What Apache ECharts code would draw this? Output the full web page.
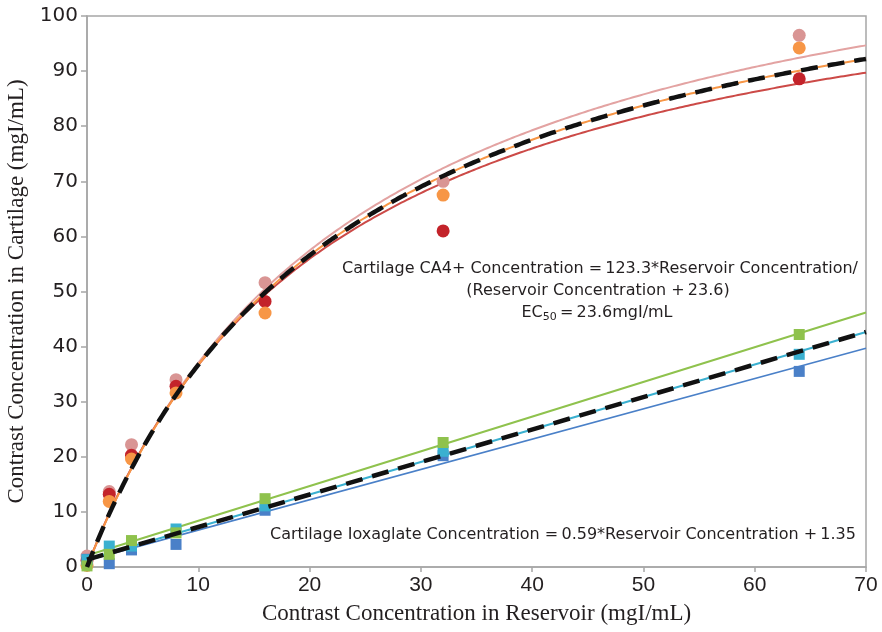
<!DOCTYPE html>
<html>
<head>
<meta charset="utf-8">
<script src="https://cdn.jsdelivr.net/npm/echarts@6/dist/echarts.min.js"></script>
<style>
  html, body { margin: 0; padding: 0; background: #ffffff; }
  #chart { width: 882px; height: 632px; }
</style>
</head>
<body>
<div id="chart"></div>
<script>
// Reservoir concentrations sampled (mgI/mL)
const reservoirConc = [0, 2, 4, 8, 16, 32, 64];

// CA4+ cartilage concentrations, three specimens
const ca4Pink   = [2.0, 13.7, 22.2, 34.0, 51.6, 70.0, 96.5];
const ca4Red    = [1.2, 13.2, 20.3, 32.8, 48.2, 61.0, 88.6];
const ca4Orange = [0.3, 11.9, 19.6, 31.6, 46.1, 67.5, 94.2];

// Ioxaglate cartilage concentrations, three specimens
const ioxGreen = [0.2, 2.3, 4.8, 6.2, 12.4, 22.6, 42.2];
const ioxCyan  = [1.3, 3.8, 3.8, 6.9, 11.1, 21.0, 38.6];
const ioxBlue  = [1.4, 0.6, 3.1, 4.1, 10.3, 20.2, 35.5];

// Saturation fits y = Vmax*x/(x+EC50): pink, orange, red, then the mean fit
const ca4FitVmax = [127.8, 123.3, 118.3];
const ca4FitEC50 = [24.5, 23.6, 22.3];
const ca4MeanFit = [123.3, 23.6];

// Linear fits y = slope*x + intercept: green, cyan, blue, then the mean fit
const ioxFitSlope = [0.63, 0.59, 0.55];
const ioxFitIntercept = [2.1, 1.35, 1.2];
const ioxMeanFit = [0.59, 1.35];

// Axis ticks
const xTicks = [0, 10, 20, 30, 40, 50, 60, 70];
const yTicks = [0, 10, 20, 30, 40, 50, 60, 70, 80, 90, 100];

const xMax = xTicks[xTicks.length - 1];

function hyperbola(vmax, k) {
  const pts = [];
  for (let x = 0; x <= xMax + 1e-9; x += 0.25) pts.push([x, vmax * x / (x + k)]);
  return pts;
}
function straight(m, b) {
  return [[0, b], [xMax, m * xMax + b]];
}
function pairs(ys) {
  return reservoirConc.map((x, i) => [x, ys[i]]);
}

const colors = {
  pink: '#d99594', orange: '#f79646', red: '#c3232a',
  pinkLine: '#e3a3a2', redLine: '#cc4a47',
  green: '#8fc24d', cyan: '#3ab0d0', blue: '#4a80c8'
};

function fitLine(data, color, width) {
  return { type: 'line', data: data, symbol: 'none', silent: true, z: 2,
    lineStyle: { color: color, width: width }, animation: false };
}
function points(ys, color, shape, size) {
  return { type: 'scatter', data: pairs(ys), symbol: shape, symbolSize: size, z: 3,
    itemStyle: { color: color, opacity: 1 }, animation: false };
}

const series = [
  fitLine(hyperbola(ca4FitVmax[0], ca4FitEC50[0]), colors.pinkLine, 2),
  fitLine(hyperbola(ca4FitVmax[2], ca4FitEC50[2]), colors.redLine, 2),
  fitLine(hyperbola(ca4FitVmax[1], ca4FitEC50[1]), colors.orange, 2),
  fitLine(straight(ioxFitSlope[0], ioxFitIntercept[0]), colors.green, 2),
  fitLine(straight(ioxFitSlope[2], ioxFitIntercept[2]), colors.blue, 1.6),
  fitLine(straight(ioxFitSlope[1], ioxFitIntercept[1]), colors.cyan, 2),
  points(ca4Pink, colors.pink, 'circle', 13),
  points(ca4Red, colors.red, 'circle', 13),
  points(ca4Orange, colors.orange, 'circle', 13),
  points(ioxBlue, colors.blue, 'rect', 11),
  points(ioxCyan, colors.cyan, 'rect', 11),
  points(ioxGreen, colors.green, 'rect', 11),
  { type: 'line', data: hyperbola(ca4MeanFit[0], ca4MeanFit[1]), symbol: 'none', z: 5,
    lineStyle: { color: '#111', width: 4.5, type: [17, 10] }, animation: false },
  { type: 'line', data: straight(ioxMeanFit[0], ioxMeanFit[1]), symbol: 'none', z: 5,
    lineStyle: { color: '#111', width: 4.5, type: [17, 10] }, animation: false }
];

const chart = echarts.init(document.getElementById('chart'), null, { renderer: 'canvas' });

const eqFont = '"DejaVu Sans", Verdana, sans-serif';
chart.setOption({
  backgroundColor: '#ffffff',
  animation: false,
  grid: { left: 87, right: 16, top: 16, bottom: 65, show: true,
    containLabel: false, outerBoundsMode: 'none',
    borderColor: '#a6a6a6', borderWidth: 1.5, backgroundColor: 'transparent' },
  xAxis: {
    type: 'value', min: xTicks[0], max: xMax, interval: 10,
    name: 'Contrast Concentration in Reservoir (mgI/mL)', nameLocation: 'middle', nameGap: 35,
    nameTextStyle: { fontFamily: '"Liberation Serif", serif', fontSize: 23, color: '#231f20' },
    axisLine: { show: true, lineStyle: { color: '#a6a6a6', width: 1.5 } },
    axisTick: { show: true, length: 5, lineStyle: { color: '#a6a6a6', width: 1.5 } },
    axisLabel: { fontFamily: '"Liberation Sans Narrow", "Liberation Sans", sans-serif',
      fontSize: 21, color: '#231f20', margin: 8 },
    splitLine: { show: false }
  },
  yAxis: {
    type: 'value', min: yTicks[0], max: yTicks[yTicks.length - 1], interval: 10,
    name: 'Contrast Concentration in Cartilage (mgI/mL)', nameLocation: 'middle', nameGap: 56,
    nameTextStyle: { fontFamily: '"Liberation Serif", serif', fontSize: 23, color: '#231f20' },
    axisLine: { show: true, lineStyle: { color: '#a6a6a6', width: 1.5 } },
    axisTick: { show: true, length: 6, lineStyle: { color: '#a6a6a6', width: 1.5 } },
    axisLabel: { fontFamily: eqFont, fontSize: 20, color: '#231f20', margin: 9 },
    splitLine: { show: false }
  },
  graphic: [
    { type: 'text', x: 600, y: 269, z: 10, style: {
        text: 'Cartilage CA4+ Concentration =\u2009123.3*Reservoir Concentration/',
        font: '16px ' + eqFont, fill: '#231f20', align: 'center', verticalAlign: 'middle' } },
    { type: 'text', x: 598, y: 291, z: 10, style: {
        text: '(Reservoir Concentration +\u200923.6)',
        font: '16px ' + eqFont, fill: '#231f20', align: 'center', verticalAlign: 'middle' } },
    { type: 'text', x: 597, y: 313, z: 10, style: {
        text: 'EC{sub|50}\u2009=\u200923.6mgI/mL',
        font: '16px ' + eqFont, fill: '#231f20', align: 'center', verticalAlign: 'middle',
        rich: { sub: { fontSize: 11, fontFamily: eqFont, verticalAlign: 'bottom', padding: [8, 0, 0, 0], fill: '#231f20' } } } },
    { type: 'text', x: 563, y: 535, z: 10, style: {
        text: 'Cartilage Ioxaglate Concentration =\u20090.59*Reservoir Concentration +\u20091.35',
        font: '16px ' + eqFont, fill: '#231f20', align: 'center', verticalAlign: 'middle' } }
  ],
  series: series
});
</script>
</body>
</html>
